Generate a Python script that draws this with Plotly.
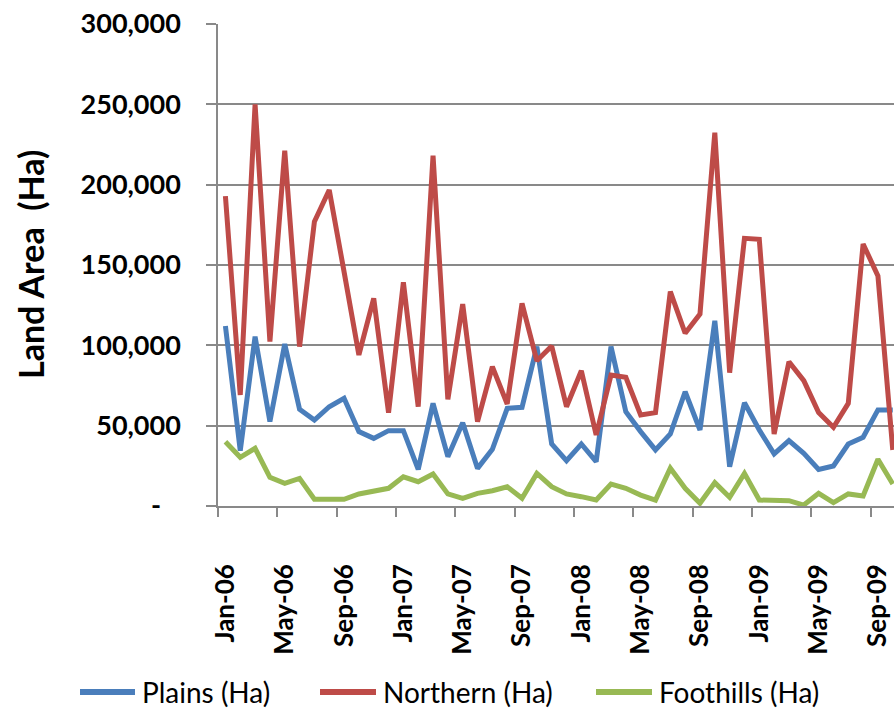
import pandas as pd
import plotly.graph_objects as go

months = list(pd.date_range("2006-01-01", periods=46, freq="MS").strftime("%b-%y"))

plains = [112000, 34400, 105400, 52500, 100800, 60200, 53500, 61800, 67000, 46300,
          42100, 46900, 46900, 22800, 63900, 30700, 51800, 23400, 35300, 60800,
          61400, 99200, 38600, 28200, 38600, 27600, 99200, 58700, 46300, 34900,
          44800, 71100, 47300, 115300, 24500, 64300, 47300, 32400, 40700, 32800,
          22800, 24900, 38600, 42800, 59800, 59800]
northern = [192900, 69100, 250000, 102300, 221100, 99200, 177000, 196700, 145800, 94000,
            129300, 58100, 139200, 61800, 218000, 66400, 125700, 52500, 86700, 63500,
            126100, 90400, 99600, 61800, 84200, 44200, 81500, 80100, 56600, 58100,
            133400, 107500, 119500, 232300, 83000, 166600, 166000, 44800, 89800, 78000,
            58100, 49000, 63900, 163100, 143200, 34900]
foothills = [40000, 30300, 35900, 17800, 14100, 17200, 4200, 4200, 4200, 7500,
             8900, 11000, 18200, 15100, 19900, 7500, 4800, 7900, 9500, 12000,
             4800, 20300, 12000, 7500, 5800, 3700, 13700, 11000, 6800, 3700,
             23500, 11000, 1700, 14500, 5400, 20300, 3700, 3700, 3300, 600,
             7900, 2100, 7500, 6200, 29100, 13700]

series_names = ["Plains (Ha)", "Northern (Ha)", "Foothills (Ha)"]
series_values = [plains, northern, foothills]
colors = ["#4A7EBB", "#BE4B48", "#98B954"]

y_tickvals = [0, 50000, 100000, 150000, 200000, 250000, 300000]
y_ticktext = ["-\u00a0\u00a0\u00a0", "50,000", "100,000", "150,000", "200,000", "250,000", "300,000"]

# layout in pixels
W, H = 894, 709
L, T, B_px = 218, 24, 506
PW, PH = W - L, B_px - T
cat_w = 14.83

def px_x(px):
    return (px - L) / PW

def px_y(py):
    return (B_px - py) / PH

fig = go.Figure()
for name, vals, col in zip(series_names, series_values, colors):
    fig.add_trace(go.Scatter(x=months, y=vals, mode="lines", name=name,
                             line=dict(color=col, width=5), showlegend=False))

grid_col = "#898989"
fig.update_layout(
    width=W, height=H,
    margin=dict(l=L, r=0, t=T, b=H - B_px, autoexpand=False),
    paper_bgcolor="white", plot_bgcolor="white",
    font=dict(family="Lato", color="black"),
    xaxis=dict(
        type="category",
        range=[-0.5, -0.5 + PW / cat_w],
        tickmode="linear", tick0=0, dtick=4,
        tickson="boundaries",
        ticks="outside", ticklen=9, tickwidth=1.5, tickcolor=grid_col,
        showgrid=False,
        showline=True, linecolor=grid_col, linewidth=1.5,
        tickangle=-90,
        tickfont=dict(family="Lato", size=26, color="black", weight="bold"),
        ticklabelstandoff=46,
        automargin=False,
    ),
    yaxis=dict(
        range=[0, 300000],
        tickvals=y_tickvals, ticktext=y_ticktext,
        ticks="outside", ticklen=10, tickwidth=1.5, tickcolor=grid_col,
        showgrid=True, gridcolor=grid_col, gridwidth=1.5,
        showline=True, linecolor=grid_col, linewidth=1.5,
        zeroline=False,
        tickfont=dict(family="Lato", size=27, color="black", weight="bold"),
        ticklabelstandoff=20,
        automargin=False,
    ),
)

# y-axis title
fig.add_annotation(text="Land Area \u00a0(Ha)", xref="paper", yref="paper",
                   x=px_x(30), y=0.5, xanchor="center", yanchor="middle",
                   textangle=-90, showarrow=False,
                   font=dict(family="Lato", size=34, color="black", weight="bold"))

# legend
legend_items = [(80, 135, 140), (320, 376, 381), (596, 652, 657)]
ly = 692
for (x0, x1, tx), name, col in zip(legend_items, series_names, colors):
    fig.add_shape(type="line", xref="paper", yref="paper",
                  x0=px_x(x0), x1=px_x(x1), y0=px_y(ly), y1=px_y(ly),
                  line=dict(color=col, width=6))
    fig.add_annotation(text=name, xref="paper", yref="paper",
                       x=px_x(tx), y=px_y(ly), xanchor="left", yanchor="middle",
                       showarrow=False,
                       font=dict(family="Lato", size=28, color="black"))

fig.write_html("out.html", config={"displayModeBar": False},
               post_script="document.body.style.margin='0px';")
